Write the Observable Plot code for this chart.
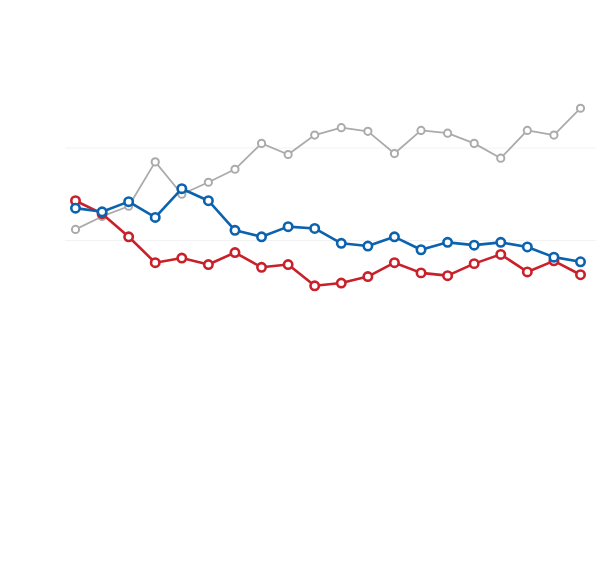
<!DOCTYPE html>
<html>
<head>
<meta charset="utf-8">
<script src="https://cdn.jsdelivr.net/npm/d3@7"></script>
<script src="https://cdn.jsdelivr.net/npm/@observablehq/plot@0.6"></script>
<style>
  html, body { margin: 0; padding: 0; background: #fff; }
  #chart svg { display: block; }
</style>
</head>
<body>
<div id="chart"></div>
<script>
// Poll index (0..19)
const periods = d3.range(20);
// Values (percent)
const grayValues = [31.2, 32.6, 33.7, 38.5, 35.0, 36.3, 37.7, 40.5, 39.3, 41.4, 42.2, 41.8, 39.4, 41.9, 41.6, 40.5, 38.9, 41.9, 41.4, 44.3];
const blueValues = [33.5, 33.1, 34.2, 32.5, 35.6, 34.3, 31.1, 30.4, 31.5, 31.3, 29.7, 29.4, 30.4, 29.0, 29.8, 29.5, 29.8, 29.3, 28.2, 27.7];
const redValues  = [34.3, 32.9, 30.4, 27.6, 28.1, 27.4, 28.7, 27.1, 27.4, 25.1, 25.4, 26.1, 27.6, 26.5, 26.2, 27.5, 28.5, 26.6, 27.8, 26.3];
const gridValues = [30, 40];

const series = [
  {name: "gray", values: grayValues},
  {name: "red", values: redValues},
  {name: "blue", values: blueValues}
];
const data = series.flatMap(s => s.values.map((v, i) => ({series: s.name, period: periods[i], value: v})));
const colors = {gray: "#ababab", red: "#c9202a", blue: "#0b62ae"};
const sub = name => data.filter(d => d.series === name);

const chart = Plot.plot({
  width: 615,
  height: 567,
  marginTop: 55,
  marginBottom: 49.5,
  marginLeft: 65,
  marginRight: 19,
  x: {domain: [0, 19], insetLeft: 10, insetRight: 16, axis: null},
  y: {domain: [0, 50], axis: null},
  marks: [
    Plot.gridY(gridValues, {stroke: "#f2f2f2", strokeOpacity: 1, strokeWidth: 1}),
    Plot.line(sub("gray"), {x: "period", y: "value", stroke: colors.gray, strokeWidth: 1.8}),
    Plot.dot(sub("gray"), {x: "period", y: "value", stroke: colors.gray, fill: "white", r: 3.6, strokeWidth: 2}),
    Plot.line(sub("red"), {x: "period", y: "value", stroke: colors.red, strokeWidth: 2.6}),
    Plot.dot(sub("red"), {x: "period", y: "value", stroke: colors.red, fill: "white", r: 4.2, strokeWidth: 2.6}),
    Plot.line(sub("blue"), {x: "period", y: "value", stroke: colors.blue, strokeWidth: 2.6}),
    Plot.dot(sub("blue"), {x: "period", y: "value", stroke: colors.blue, fill: "white", r: 4.2, strokeWidth: 2.6})
  ]
});
document.getElementById("chart").appendChild(chart);
</script>
</body>
</html>
